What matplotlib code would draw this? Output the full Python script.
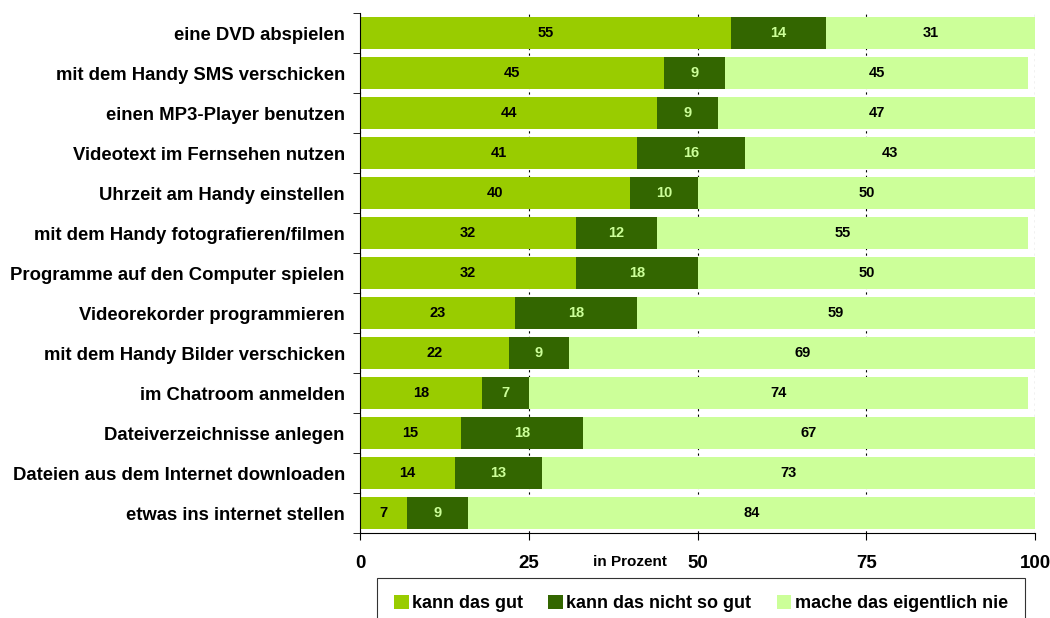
import matplotlib
matplotlib.use("Agg")
import matplotlib.pyplot as plt
import numpy as np

plt.rcParams["font.family"] = ["Liberation Sans", "DejaVu Sans"]
plt.rcParams["font.weight"] = "bold"

categories = [
    "eine DVD abspielen",
    "mit dem Handy SMS verschicken",
    "einen MP3-Player benutzen",
    "Videotext im Fernsehen nutzen",
    "Uhrzeit am Handy einstellen",
    "mit dem Handy fotografieren/filmen",
    "Programme auf den Computer spielen",
    "Videorekorder programmieren",
    "mit dem Handy Bilder verschicken",
    "im Chatroom anmelden",
    "Dateiverzeichnisse anlegen",
    "Dateien aus dem Internet downloaden",
    "etwas ins internet stellen",
]
kann_gut = [55, 45, 44, 41, 40, 32, 32, 23, 22, 18, 15, 14, 7]
nicht_so_gut = [14, 9, 9, 16, 10, 12, 18, 18, 9, 7, 18, 13, 9]
nie = [31, 45, 47, 43, 50, 55, 50, 59, 69, 74, 67, 73, 84]

series = [
    ("kann das gut", kann_gut, "#99CC00", "black"),
    ("kann das nicht so gut", nicht_so_gut, "#336600", "#CCFF99"),
    ("mache das eigentlich nie", nie, "#CCFF99", "black"),
]

fig = plt.figure(figsize=(10.5, 6.18), dpi=100)
ax = fig.add_axes([0.3429, 0.1375, 0.6429, 0.8414])

y = np.arange(len(categories))
left = np.zeros(len(categories))
handles = []
for name, vals, color, tcol in series:
    vals = np.array(vals)
    bars = ax.barh(y, vals, left=left, height=0.8, color=color, label=name, zorder=2)
    handles.append(bars)
    for yi, l, v in zip(y, left, vals):
        ax.text(l + v / 2, yi, str(v), ha="center", va="center",
                fontsize=10.5, fontweight="bold", color=tcol, zorder=3)
    left = left + vals

ax.set_xlim(0, 100)
ax.set_ylim(len(categories) - 0.5, -0.5)
ax.set_xticks([0, 25, 50, 75, 100])
ax.set_xticklabels(["0", "25", "50", "75", "100"], fontsize=13.5, fontweight="bold")
ax.tick_params(axis="x", direction="out", length=5, pad=11)
ax.set_yticks(y)
ax.set_yticklabels(categories, fontsize=13.3, fontweight="bold")
ax.set_yticks(np.arange(len(categories) + 1) - 0.5, minor=True)
ax.tick_params(axis="y", which="major", length=0, pad=11)
ax.tick_params(axis="y", which="minor", direction="out", length=5)

ax.grid(axis="x", linestyle=(0, (2, 3)), color="black", linewidth=0.8, zorder=0)
ax.spines["top"].set_visible(False)
ax.spines["right"].set_visible(False)

fig.text(0.5995, 1 - 562 / 618, "in Prozent", ha="center", va="center",
         fontsize=11, fontweight="bold")

leg = fig.legend(handles=handles, loc="upper center", bbox_to_anchor=(0.6676, 1 - 578 / 618),
                 ncol=3, frameon=True, fancybox=False, edgecolor="black",
                 fontsize=13, handlelength=0.8, handleheight=0.8,
                 columnspacing=1.4, handletextpad=0.2, borderpad=0.95,
                 borderaxespad=0)
leg.get_frame().set_linewidth(0.8)
for t in leg.get_texts():
    t.set_fontweight("bold")

fig.savefig("out.png", dpi=100)
